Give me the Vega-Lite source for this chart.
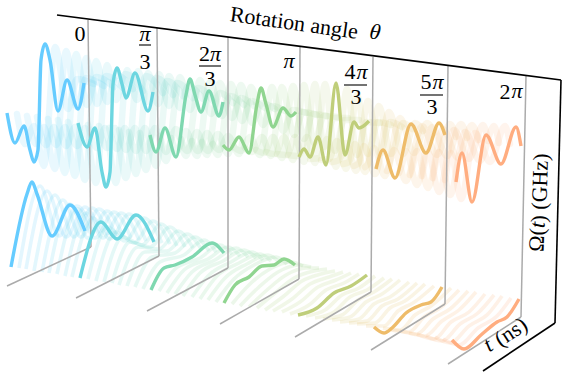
{"$schema":"https://vega.github.io/schema/vega-lite/v6.json","width":564,"height":373,"padding":0,"autosize":{"type":"fit","contains":"padding"},"background":"white","view":{"stroke":null},
"config":{"text":{"font":"Liberation Serif","fontSize":22,"color":"#000"}},
"datasets":{
"main":[
{"ch":"u","th":0,"x":5,"y":113},{"ch":"u","th":0,"x":13,"y":143},{"ch":"u","th":0,"x":22,"y":126},{"ch":"u","th":0,"x":28,"y":150},{"ch":"u","th":0,"x":32,"y":162},{"ch":"u","th":0,"x":36,"y":150},{"ch":"u","th":0,"x":39,"y":60},{"ch":"u","th":0,"x":43,"y":44},{"ch":"u","th":0,"x":48,"y":60},{"ch":"u","th":0,"x":56,"y":111},{"ch":"u","th":0,"x":65,"y":80},{"ch":"u","th":0,"x":76,"y":109},{"ch":"u","th":0,"x":82,"y":83},
{"ch":"u","th":1,"x":76,"y":123},{"ch":"u","th":1,"x":85,"y":147},{"ch":"u","th":1,"x":93,"y":128},{"ch":"u","th":1,"x":100,"y":172},{"ch":"u","th":1,"x":104,"y":187},{"ch":"u","th":1,"x":108,"y":172},{"ch":"u","th":1,"x":111,"y":84},{"ch":"u","th":1,"x":115,"y":68},{"ch":"u","th":1,"x":120,"y":84},{"ch":"u","th":1,"x":124,"y":98},{"ch":"u","th":1,"x":133,"y":73},{"ch":"u","th":1,"x":146,"y":111},{"ch":"u","th":1,"x":151,"y":92},
{"ch":"u","th":2,"x":148,"y":135},{"ch":"u","th":2,"x":154,"y":152},{"ch":"u","th":2,"x":163,"y":128},{"ch":"u","th":2,"x":174,"y":157},{"ch":"u","th":2,"x":184,"y":95},{"ch":"u","th":2,"x":188,"y":79},{"ch":"u","th":2,"x":193,"y":95},{"ch":"u","th":2,"x":199,"y":112},{"ch":"u","th":2,"x":207,"y":91},{"ch":"u","th":2,"x":217,"y":116},{"ch":"u","th":2,"x":221,"y":102},
{"ch":"u","th":3,"x":221,"y":145},{"ch":"u","th":3,"x":227,"y":150},{"ch":"u","th":3,"x":237,"y":137},{"ch":"u","th":3,"x":247,"y":153},{"ch":"u","th":3,"x":255,"y":104},{"ch":"u","th":3,"x":259,"y":88},{"ch":"u","th":3,"x":264,"y":104},{"ch":"u","th":3,"x":271,"y":127},{"ch":"u","th":3,"x":281,"y":108},{"ch":"u","th":3,"x":289,"y":116},{"ch":"u","th":3,"x":294,"y":112},
{"ch":"u","th":4,"x":297,"y":157},{"ch":"u","th":4,"x":302,"y":149},{"ch":"u","th":4,"x":308,"y":157},{"ch":"u","th":4,"x":316,"y":137},{"ch":"u","th":4,"x":324,"y":165},{"ch":"u","th":4,"x":334,"y":83},{"ch":"u","th":4,"x":343,"y":155},{"ch":"u","th":4,"x":352,"y":122},{"ch":"u","th":4,"x":357,"y":128},{"ch":"u","th":4,"x":367,"y":121},
{"ch":"u","th":5,"x":374,"y":169},{"ch":"u","th":5,"x":381,"y":150},{"ch":"u","th":5,"x":393,"y":178},{"ch":"u","th":5,"x":409,"y":124},{"ch":"u","th":5,"x":424,"y":153},{"ch":"u","th":5,"x":437,"y":123},{"ch":"u","th":5,"x":443,"y":135},
{"ch":"u","th":6,"x":454,"y":182},{"ch":"u","th":6,"x":460,"y":153},{"ch":"u","th":6,"x":470,"y":202},{"ch":"u","th":6,"x":484,"y":135},{"ch":"u","th":6,"x":499,"y":164},{"ch":"u","th":6,"x":514,"y":127},{"ch":"u","th":6,"x":519,"y":146},
{"ch":"l","th":0,"x":9,"y":267},{"ch":"l","th":0,"x":25,"y":194},{"ch":"l","th":0,"x":30,"y":182},{"ch":"l","th":0,"x":35,"y":194},{"ch":"l","th":0,"x":50,"y":236},{"ch":"l","th":0,"x":68,"y":205},{"ch":"l","th":0,"x":83,"y":231},
{"ch":"l","th":1,"x":78,"y":278},{"ch":"l","th":1,"x":99,"y":222},{"ch":"l","th":1,"x":115,"y":239},{"ch":"l","th":1,"x":134,"y":215},{"ch":"l","th":1,"x":152,"y":242},
{"ch":"l","th":2,"x":149,"y":290},{"ch":"l","th":2,"x":162,"y":268},{"ch":"l","th":2,"x":173,"y":265},{"ch":"l","th":2,"x":190,"y":257},{"ch":"l","th":2,"x":210,"y":243},{"ch":"l","th":2,"x":222,"y":253},
{"ch":"l","th":3,"x":222,"y":303},{"ch":"l","th":3,"x":233,"y":285},{"ch":"l","th":3,"x":247,"y":277},{"ch":"l","th":3,"x":260,"y":266},{"ch":"l","th":3,"x":272,"y":265},{"ch":"l","th":3,"x":282,"y":259},{"ch":"l","th":3,"x":293,"y":265},
{"ch":"l","th":4,"x":296,"y":315},{"ch":"l","th":4,"x":315,"y":308},{"ch":"l","th":4,"x":332,"y":293},{"ch":"l","th":4,"x":349,"y":286},{"ch":"l","th":4,"x":365,"y":275},
{"ch":"l","th":5,"x":372,"y":327},{"ch":"l","th":5,"x":382,"y":333},{"ch":"l","th":5,"x":390,"y":328},{"ch":"l","th":5,"x":404,"y":313},{"ch":"l","th":5,"x":419,"y":305},{"ch":"l","th":5,"x":429,"y":302},{"ch":"l","th":5,"x":440,"y":287},
{"ch":"l","th":6,"x":450,"y":340},{"ch":"l","th":6,"x":462,"y":349},{"ch":"l","th":6,"x":479,"y":335},{"ch":"l","th":6,"x":495,"y":322},{"ch":"l","th":6,"x":505,"y":317},{"ch":"l","th":6,"x":517,"y":299}
],
"faintUpper":[
{"th":0.14,"x":15,"y":114},{"th":0.14,"x":23,"y":144},{"th":0.14,"x":32,"y":126},{"th":0.14,"x":42,"y":166},{"th":0.14,"x":53,"y":47},{"th":0.14,"x":66,"y":109},{"th":0.14,"x":75,"y":79},{"th":0.14,"x":92,"y":84},
{"th":0.29,"x":25,"y":116},{"th":0.29,"x":34,"y":144},{"th":0.29,"x":42,"y":127},{"th":0.29,"x":53,"y":169},{"th":0.29,"x":64,"y":51},{"th":0.29,"x":75,"y":107},{"th":0.29,"x":84,"y":78},{"th":0.29,"x":102,"y":86},
{"th":0.43,"x":35,"y":117},{"th":0.43,"x":44,"y":145},{"th":0.43,"x":52,"y":127},{"th":0.43,"x":63,"y":173},{"th":0.43,"x":74,"y":54},{"th":0.43,"x":85,"y":105},{"th":0.43,"x":94,"y":77},{"th":0.43,"x":112,"y":87},
{"th":0.57,"x":46,"y":119},{"th":0.57,"x":54,"y":145},{"th":0.57,"x":63,"y":127},{"th":0.57,"x":73,"y":176},{"th":0.57,"x":84,"y":58},{"th":0.57,"x":95,"y":104},{"th":0.57,"x":104,"y":76},{"th":0.57,"x":121,"y":88},
{"th":0.71,"x":56,"y":120},{"th":0.71,"x":64,"y":146},{"th":0.71,"x":73,"y":127},{"th":0.71,"x":83,"y":180},{"th":0.71,"x":94,"y":61},{"th":0.71,"x":105,"y":102},{"th":0.71,"x":114,"y":75},{"th":0.71,"x":131,"y":89},
{"th":0.86,"x":66,"y":122},{"th":0.86,"x":75,"y":146},{"th":0.86,"x":83,"y":128},{"th":0.86,"x":94,"y":183},{"th":0.86,"x":105,"y":65},{"th":0.86,"x":114,"y":100},{"th":0.86,"x":123,"y":74},{"th":0.86,"x":141,"y":91},
{"th":1.14,"x":86,"y":125},{"th":1.14,"x":95,"y":148},{"th":1.14,"x":103,"y":128},{"th":1.14,"x":114,"y":183},{"th":1.14,"x":125,"y":70},{"th":1.14,"x":135,"y":100},{"th":1.14,"x":144,"y":76},{"th":1.14,"x":161,"y":93},
{"th":1.29,"x":97,"y":126},{"th":1.29,"x":105,"y":148},{"th":1.29,"x":113,"y":128},{"th":1.29,"x":124,"y":178},{"th":1.29,"x":136,"y":71},{"th":1.29,"x":145,"y":102},{"th":1.29,"x":154,"y":78},{"th":1.29,"x":171,"y":95},
{"th":1.43,"x":107,"y":128},{"th":1.43,"x":115,"y":149},{"th":1.43,"x":123,"y":128},{"th":1.43,"x":134,"y":174},{"th":1.43,"x":146,"y":73},{"th":1.43,"x":156,"y":104},{"th":1.43,"x":165,"y":81},{"th":1.43,"x":181,"y":96},
{"th":1.57,"x":117,"y":130},{"th":1.57,"x":124,"y":150},{"th":1.57,"x":133,"y":128},{"th":1.57,"x":144,"y":170},{"th":1.57,"x":157,"y":74},{"th":1.57,"x":167,"y":106},{"th":1.57,"x":175,"y":83},{"th":1.57,"x":191,"y":98},
{"th":1.71,"x":127,"y":132},{"th":1.71,"x":134,"y":151},{"th":1.71,"x":143,"y":128},{"th":1.71,"x":154,"y":166},{"th":1.71,"x":167,"y":76},{"th":1.71,"x":178,"y":108},{"th":1.71,"x":186,"y":86},{"th":1.71,"x":201,"y":99},
{"th":1.86,"x":138,"y":133},{"th":1.86,"x":144,"y":151},{"th":1.86,"x":153,"y":128},{"th":1.86,"x":164,"y":161},{"th":1.86,"x":178,"y":77},{"th":1.86,"x":188,"y":110},{"th":1.86,"x":196,"y":88},{"th":1.86,"x":211,"y":101},
{"th":2.14,"x":158,"y":136},{"th":2.14,"x":164,"y":152},{"th":2.14,"x":174,"y":129},{"th":2.14,"x":184,"y":156},{"th":2.14,"x":198,"y":80},{"th":2.14,"x":209,"y":114},{"th":2.14,"x":218,"y":93},{"th":2.14,"x":231,"y":103},
{"th":2.29,"x":169,"y":138},{"th":2.29,"x":175,"y":151},{"th":2.29,"x":184,"y":131},{"th":2.29,"x":195,"y":156},{"th":2.29,"x":208,"y":82},{"th":2.29,"x":220,"y":116},{"th":2.29,"x":228,"y":96},{"th":2.29,"x":242,"y":105},
{"th":2.43,"x":179,"y":139},{"th":2.43,"x":185,"y":151},{"th":2.43,"x":195,"y":132},{"th":2.43,"x":205,"y":155},{"th":2.43,"x":218,"y":83},{"th":2.43,"x":230,"y":118},{"th":2.43,"x":239,"y":98},{"th":2.43,"x":252,"y":106},
{"th":2.57,"x":190,"y":141},{"th":2.57,"x":196,"y":151},{"th":2.57,"x":205,"y":133},{"th":2.57,"x":216,"y":155},{"th":2.57,"x":229,"y":84},{"th":2.57,"x":240,"y":121},{"th":2.57,"x":249,"y":101},{"th":2.57,"x":263,"y":108},
{"th":2.71,"x":200,"y":142},{"th":2.71,"x":206,"y":151},{"th":2.71,"x":216,"y":134},{"th":2.71,"x":226,"y":154},{"th":2.71,"x":239,"y":85},{"th":2.71,"x":250,"y":123},{"th":2.71,"x":260,"y":103},{"th":2.71,"x":273,"y":109},
{"th":2.86,"x":211,"y":144},{"th":2.86,"x":217,"y":150},{"th":2.86,"x":226,"y":136},{"th":2.86,"x":237,"y":154},{"th":2.86,"x":249,"y":87},{"th":2.86,"x":261,"y":125},{"th":2.86,"x":270,"y":106},{"th":2.86,"x":283,"y":111},
{"th":3.14,"x":232,"y":147},{"th":3.14,"x":239,"y":151},{"th":3.14,"x":248,"y":137},{"th":3.14,"x":258,"y":155},{"th":3.14,"x":270,"y":87},{"th":3.14,"x":281,"y":131},{"th":3.14,"x":291,"y":110},{"th":3.14,"x":304,"y":113},
{"th":3.29,"x":243,"y":148},{"th":3.29,"x":250,"y":152},{"th":3.29,"x":260,"y":137},{"th":3.29,"x":269,"y":156},{"th":3.29,"x":280,"y":87},{"th":3.29,"x":292,"y":135},{"th":3.29,"x":301,"y":112},{"th":3.29,"x":315,"y":115},
{"th":3.43,"x":254,"y":150},{"th":3.43,"x":262,"y":153},{"th":3.43,"x":271,"y":137},{"th":3.43,"x":280,"y":158},{"th":3.43,"x":291,"y":86},{"th":3.43,"x":302,"y":139},{"th":3.43,"x":311,"y":114},{"th":3.43,"x":325,"y":116},
{"th":3.57,"x":264,"y":152},{"th":3.57,"x":273,"y":154},{"th":3.57,"x":282,"y":137},{"th":3.57,"x":291,"y":160},{"th":3.57,"x":302,"y":85},{"th":3.57,"x":312,"y":143},{"th":3.57,"x":322,"y":116},{"th":3.57,"x":336,"y":117},
{"th":3.71,"x":275,"y":154},{"th":3.71,"x":285,"y":155},{"th":3.71,"x":293,"y":137},{"th":3.71,"x":302,"y":162},{"th":3.71,"x":313,"y":84},{"th":3.71,"x":322,"y":147},{"th":3.71,"x":332,"y":118},{"th":3.71,"x":346,"y":118},
{"th":3.86,"x":286,"y":155},{"th":3.86,"x":296,"y":156},{"th":3.86,"x":305,"y":137},{"th":3.86,"x":313,"y":163},{"th":3.86,"x":323,"y":84},{"th":3.86,"x":333,"y":151},{"th":3.86,"x":342,"y":120},{"th":3.86,"x":357,"y":120},
{"th":4.14,"x":308,"y":159},{"th":4.14,"x":318,"y":158},{"th":4.14,"x":325,"y":139},{"th":4.14,"x":334,"y":167},{"th":4.14,"x":345,"y":89},{"th":4.14,"x":355,"y":155},{"th":4.14,"x":364,"y":122},{"th":4.14,"x":378,"y":123},
{"th":4.29,"x":319,"y":160},{"th":4.29,"x":327,"y":159},{"th":4.29,"x":335,"y":141},{"th":4.29,"x":344,"y":169},{"th":4.29,"x":355,"y":95},{"th":4.29,"x":366,"y":154},{"th":4.29,"x":376,"y":122},{"th":4.29,"x":389,"y":125},
{"th":4.43,"x":330,"y":162},{"th":4.43,"x":337,"y":160},{"th":4.43,"x":344,"y":143},{"th":4.43,"x":354,"y":171},{"th":4.43,"x":366,"y":101},{"th":4.43,"x":378,"y":154},{"th":4.43,"x":388,"y":122},{"th":4.43,"x":400,"y":127},
{"th":4.57,"x":341,"y":164},{"th":4.57,"x":347,"y":162},{"th":4.57,"x":353,"y":144},{"th":4.57,"x":363,"y":172},{"th":4.57,"x":377,"y":106},{"th":4.57,"x":389,"y":154},{"th":4.57,"x":401,"y":123},{"th":4.57,"x":410,"y":129},
{"th":4.71,"x":352,"y":166},{"th":4.71,"x":357,"y":163},{"th":4.71,"x":362,"y":146},{"th":4.71,"x":373,"y":174},{"th":4.71,"x":387,"y":112},{"th":4.71,"x":401,"y":154},{"th":4.71,"x":413,"y":123},{"th":4.71,"x":421,"y":131},
{"th":4.86,"x":363,"y":167},{"th":4.86,"x":366,"y":164},{"th":4.86,"x":372,"y":148},{"th":4.86,"x":383,"y":176},{"th":4.86,"x":398,"y":118},{"th":4.86,"x":412,"y":153},{"th":4.86,"x":425,"y":123},{"th":4.86,"x":432,"y":133},
{"th":5.14,"x":385,"y":171},{"th":5.14,"x":387,"y":166},{"th":5.14,"x":392,"y":150},{"th":5.14,"x":404,"y":181},{"th":5.14,"x":420,"y":126},{"th":5.14,"x":435,"y":155},{"th":5.14,"x":448,"y":124},{"th":5.14,"x":454,"y":137},
{"th":5.29,"x":397,"y":173},{"th":5.29,"x":399,"y":168},{"th":5.29,"x":404,"y":151},{"th":5.29,"x":415,"y":185},{"th":5.29,"x":430,"y":127},{"th":5.29,"x":445,"y":156},{"th":5.29,"x":459,"y":124},{"th":5.29,"x":465,"y":138},
{"th":5.43,"x":408,"y":175},{"th":5.43,"x":410,"y":169},{"th":5.43,"x":415,"y":151},{"th":5.43,"x":426,"y":188},{"th":5.43,"x":441,"y":129},{"th":5.43,"x":456,"y":158},{"th":5.43,"x":470,"y":125},{"th":5.43,"x":476,"y":140},
{"th":5.57,"x":420,"y":176},{"th":5.57,"x":421,"y":171},{"th":5.57,"x":426,"y":152},{"th":5.57,"x":437,"y":192},{"th":5.57,"x":452,"y":130},{"th":5.57,"x":467,"y":159},{"th":5.57,"x":481,"y":125},{"th":5.57,"x":486,"y":141},
{"th":5.71,"x":431,"y":178},{"th":5.71,"x":432,"y":172},{"th":5.71,"x":437,"y":152},{"th":5.71,"x":448,"y":195},{"th":5.71,"x":463,"y":132},{"th":5.71,"x":478,"y":161},{"th":5.71,"x":492,"y":126},{"th":5.71,"x":497,"y":143},
{"th":5.86,"x":443,"y":180},{"th":5.86,"x":444,"y":174},{"th":5.86,"x":449,"y":153},{"th":5.86,"x":459,"y":199},{"th":5.86,"x":473,"y":133},{"th":5.86,"x":488,"y":162},{"th":5.86,"x":503,"y":126},{"th":5.86,"x":508,"y":144}
],
"faintLower":[
{"th":0.11,"x":17,"y":268},{"th":0.11,"x":38,"y":186},{"th":0.11,"x":57,"y":236},{"th":0.11,"x":75,"y":206},{"th":0.11,"x":91,"y":232},
{"th":0.22,"x":24,"y":269},{"th":0.22,"x":45,"y":191},{"th":0.22,"x":64,"y":237},{"th":0.22,"x":83,"y":207},{"th":0.22,"x":98,"y":233},
{"th":0.33,"x":32,"y":271},{"th":0.33,"x":53,"y":195},{"th":0.33,"x":72,"y":237},{"th":0.33,"x":90,"y":208},{"th":0.33,"x":106,"y":235},
{"th":0.44,"x":40,"y":272},{"th":0.44,"x":61,"y":200},{"th":0.44,"x":79,"y":237},{"th":0.44,"x":97,"y":209},{"th":0.44,"x":114,"y":236},
{"th":0.56,"x":47,"y":273},{"th":0.56,"x":68,"y":204},{"th":0.56,"x":86,"y":238},{"th":0.56,"x":105,"y":211},{"th":0.56,"x":121,"y":237},
{"th":0.67,"x":55,"y":274},{"th":0.67,"x":76,"y":209},{"th":0.67,"x":93,"y":238},{"th":0.67,"x":112,"y":212},{"th":0.67,"x":129,"y":238},
{"th":0.78,"x":63,"y":276},{"th":0.78,"x":84,"y":213},{"th":0.78,"x":101,"y":238},{"th":0.78,"x":119,"y":213},{"th":0.78,"x":137,"y":240},
{"th":0.89,"x":70,"y":277},{"th":0.89,"x":91,"y":218},{"th":0.89,"x":108,"y":239},{"th":0.89,"x":127,"y":214},{"th":0.89,"x":144,"y":241},
{"th":1.11,"x":86,"y":279},{"th":1.11,"x":106,"y":227},{"th":1.11,"x":123,"y":241},{"th":1.11,"x":142,"y":218},{"th":1.11,"x":160,"y":243},
{"th":1.22,"x":94,"y":281},{"th":1.22,"x":114,"y":232},{"th":1.22,"x":132,"y":243},{"th":1.22,"x":151,"y":221},{"th":1.22,"x":168,"y":244},
{"th":1.33,"x":102,"y":282},{"th":1.33,"x":121,"y":237},{"th":1.33,"x":140,"y":245},{"th":1.33,"x":159,"y":224},{"th":1.33,"x":175,"y":246},
{"th":1.44,"x":110,"y":283},{"th":1.44,"x":128,"y":242},{"th":1.44,"x":148,"y":247},{"th":1.44,"x":168,"y":227},{"th":1.44,"x":183,"y":247},
{"th":1.56,"x":117,"y":285},{"th":1.56,"x":136,"y":247},{"th":1.56,"x":157,"y":249},{"th":1.56,"x":176,"y":231},{"th":1.56,"x":191,"y":248},
{"th":1.67,"x":125,"y":286},{"th":1.67,"x":143,"y":252},{"th":1.67,"x":165,"y":251},{"th":1.67,"x":185,"y":234},{"th":1.67,"x":199,"y":249},
{"th":1.78,"x":133,"y":287},{"th":1.78,"x":150,"y":257},{"th":1.78,"x":173,"y":253},{"th":1.78,"x":193,"y":237},{"th":1.78,"x":207,"y":251},
{"th":1.89,"x":141,"y":289},{"th":1.89,"x":158,"y":262},{"th":1.89,"x":182,"y":255},{"th":1.89,"x":202,"y":240},{"th":1.89,"x":214,"y":252},
{"th":2.11,"x":157,"y":291},{"th":2.11,"x":173,"y":269},{"th":2.11,"x":198,"y":258},{"th":2.11,"x":218,"y":245},{"th":2.11,"x":230,"y":254},
{"th":2.22,"x":165,"y":293},{"th":2.22,"x":182,"y":270},{"th":2.22,"x":206,"y":259},{"th":2.22,"x":226,"y":247},{"th":2.22,"x":238,"y":256},
{"th":2.33,"x":173,"y":294},{"th":2.33,"x":190,"y":272},{"th":2.33,"x":213,"y":260},{"th":2.33,"x":234,"y":248},{"th":2.33,"x":246,"y":257},
{"th":2.44,"x":181,"y":296},{"th":2.44,"x":198,"y":273},{"th":2.44,"x":221,"y":261},{"th":2.44,"x":242,"y":250},{"th":2.44,"x":254,"y":258},
{"th":2.56,"x":190,"y":297},{"th":2.56,"x":207,"y":275},{"th":2.56,"x":229,"y":262},{"th":2.56,"x":250,"y":252},{"th":2.56,"x":261,"y":260},
{"th":2.67,"x":198,"y":299},{"th":2.67,"x":215,"y":276},{"th":2.67,"x":237,"y":263},{"th":2.67,"x":258,"y":254},{"th":2.67,"x":269,"y":261},
{"th":2.78,"x":206,"y":300},{"th":2.78,"x":223,"y":278},{"th":2.78,"x":245,"y":264},{"th":2.78,"x":266,"y":255},{"th":2.78,"x":277,"y":262},
{"th":2.89,"x":214,"y":302},{"th":2.89,"x":232,"y":279},{"th":2.89,"x":252,"y":265},{"th":2.89,"x":274,"y":257},{"th":2.89,"x":285,"y":264},
{"th":3.11,"x":230,"y":304},{"th":3.11,"x":248,"y":284},{"th":3.11,"x":268,"y":269},{"th":3.11,"x":289,"y":262},{"th":3.11,"x":301,"y":266},
{"th":3.22,"x":238,"y":306},{"th":3.22,"x":257,"y":287},{"th":3.22,"x":276,"y":272},{"th":3.22,"x":297,"y":265},{"th":3.22,"x":309,"y":267},
{"th":3.33,"x":247,"y":307},{"th":3.33,"x":265,"y":290},{"th":3.33,"x":284,"y":275},{"th":3.33,"x":304,"y":268},{"th":3.33,"x":317,"y":268},
{"th":3.44,"x":255,"y":308},{"th":3.44,"x":273,"y":293},{"th":3.44,"x":292,"y":278},{"th":3.44,"x":312,"y":271},{"th":3.44,"x":325,"y":269},
{"th":3.56,"x":263,"y":310},{"th":3.56,"x":282,"y":296},{"th":3.56,"x":300,"y":281},{"th":3.56,"x":319,"y":274},{"th":3.56,"x":333,"y":271},
{"th":3.67,"x":271,"y":311},{"th":3.67,"x":290,"y":299},{"th":3.67,"x":308,"y":284},{"th":3.67,"x":327,"y":277},{"th":3.67,"x":341,"y":272},
{"th":3.78,"x":280,"y":312},{"th":3.78,"x":298,"y":302},{"th":3.78,"x":316,"y":287},{"th":3.78,"x":334,"y":280},{"th":3.78,"x":349,"y":273},
{"th":3.89,"x":288,"y":314},{"th":3.89,"x":307,"y":305},{"th":3.89,"x":324,"y":290},{"th":3.89,"x":342,"y":283},{"th":3.89,"x":357,"y":274},
{"th":4.11,"x":304,"y":316},{"th":4.11,"x":323,"y":310},{"th":4.11,"x":340,"y":295},{"th":4.11,"x":357,"y":288},{"th":4.11,"x":373,"y":276},
{"th":4.22,"x":313,"y":318},{"th":4.22,"x":332,"y":312},{"th":4.22,"x":348,"y":297},{"th":4.22,"x":365,"y":290},{"th":4.22,"x":382,"y":278},
{"th":4.33,"x":321,"y":319},{"th":4.33,"x":340,"y":315},{"th":4.33,"x":356,"y":300},{"th":4.33,"x":372,"y":292},{"th":4.33,"x":390,"y":279},
{"th":4.44,"x":330,"y":320},{"th":4.44,"x":348,"y":317},{"th":4.44,"x":364,"y":302},{"th":4.44,"x":380,"y":294},{"th":4.44,"x":398,"y":280},
{"th":4.56,"x":338,"y":322},{"th":4.56,"x":357,"y":319},{"th":4.56,"x":372,"y":304},{"th":4.56,"x":388,"y":297},{"th":4.56,"x":407,"y":282},
{"th":4.67,"x":347,"y":323},{"th":4.67,"x":365,"y":321},{"th":4.67,"x":380,"y":306},{"th":4.67,"x":396,"y":299},{"th":4.67,"x":415,"y":283},
{"th":4.78,"x":355,"y":324},{"th":4.78,"x":373,"y":323},{"th":4.78,"x":388,"y":308},{"th":4.78,"x":403,"y":301},{"th":4.78,"x":423,"y":284},
{"th":4.89,"x":364,"y":326},{"th":4.89,"x":382,"y":326},{"th":4.89,"x":396,"y":311},{"th":4.89,"x":411,"y":303},{"th":4.89,"x":432,"y":286},
{"th":5.11,"x":381,"y":328},{"th":5.11,"x":398,"y":330},{"th":5.11,"x":413,"y":315},{"th":5.11,"x":429,"y":306},{"th":5.11,"x":449,"y":288},
{"th":5.22,"x":389,"y":330},{"th":5.22,"x":407,"y":332},{"th":5.22,"x":422,"y":317},{"th":5.22,"x":438,"y":308},{"th":5.22,"x":457,"y":290},
{"th":5.33,"x":398,"y":331},{"th":5.33,"x":415,"y":334},{"th":5.33,"x":431,"y":319},{"th":5.33,"x":448,"y":309},{"th":5.33,"x":466,"y":291},
{"th":5.44,"x":407,"y":333},{"th":5.44,"x":423,"y":336},{"th":5.44,"x":440,"y":321},{"th":5.44,"x":457,"y":310},{"th":5.44,"x":474,"y":292},
{"th":5.56,"x":415,"y":334},{"th":5.56,"x":432,"y":339},{"th":5.56,"x":449,"y":322},{"th":5.56,"x":467,"y":312},{"th":5.56,"x":483,"y":294},
{"th":5.67,"x":424,"y":336},{"th":5.67,"x":440,"y":341},{"th":5.67,"x":458,"y":324},{"th":5.67,"x":476,"y":313},{"th":5.67,"x":492,"y":295},
{"th":5.78,"x":433,"y":337},{"th":5.78,"x":448,"y":343},{"th":5.78,"x":467,"y":326},{"th":5.78,"x":486,"y":314},{"th":5.78,"x":500,"y":296},
{"th":5.89,"x":441,"y":339},{"th":5.89,"x":457,"y":345},{"th":5.89,"x":476,"y":328},{"th":5.89,"x":495,"y":316},{"th":5.89,"x":509,"y":298}
]},
"encoding":{
"x":{"field":"x","type":"quantitative","axis":null,"scale":{"domain":[0,564],"range":[0,564],"nice":false,"zero":false}},
"y":{"field":"y","type":"quantitative","axis":null,"scale":{"domain":[373,0],"range":[373,0],"nice":false,"zero":false}}},
"layer":[
{"data":{"name":"faintUpper"},"mark":{"type":"line","interpolate":"monotone","strokeWidth":6.5,"opacity":0.14,"strokeCap":"round"},"encoding":{"detail":{"field":"th"},"color":{"field":"th","type":"quantitative","legend":null,"scale":{"domain":[0,1,2,3,4,5,6],"range":["#66CCFF","#6CD6E0","#7FD8B0","#90D590","#BFCE7A","#EEBC6A","#FFAD80"]}}}},
{"data":{"name":"faintLower"},"mark":{"type":"line","interpolate":"monotone","strokeWidth":3.6,"opacity":0.18},"encoding":{"detail":{"field":"th"},"color":{"field":"th","type":"quantitative","legend":null}}},
{"data":{"values":[{"x":5,"y":286,"x2":89,"y2":247},{"x":89,"y":247,"x2":86,"y2":20},{"x":74,"y":298,"x2":157,"y2":256},{"x":157,"y":256,"x2":155,"y2":28},{"x":145,"y":311,"x2":226,"y2":268},{"x":226,"y":268,"x2":226,"y2":37},{"x":218,"y":324,"x2":297,"y2":279},{"x":297,"y":279,"x2":298,"y2":47},{"x":293,"y":337,"x2":369,"y2":292},{"x":369,"y":292,"x2":371,"y2":57},{"x":369,"y":350,"x2":443,"y2":304},{"x":443,"y":304,"x2":446,"y2":66},{"x":446,"y":364,"x2":519,"y2":317},{"x":519,"y":317,"x2":524,"y2":76}]},"mark":{"type":"rule","color":"#ababab","strokeWidth":1.5},"encoding":{"x2":{"field":"x2"},"y2":{"field":"y2"}}},
{"data":{"name":"main"},"mark":{"type":"line","interpolate":"monotone","strokeWidth":3.4},"encoding":{"detail":[{"field":"ch"},{"field":"th"}],"color":{"field":"th","type":"quantitative","legend":null}}},
{"data":{"values":[{"x":55,"y":15,"x2":559,"y2":80},{"x":559,"y":80,"x2":553,"y2":323},{"x":553,"y":323,"x2":481,"y2":371}]},"mark":{"type":"rule","color":"#000","strokeWidth":1.6},"encoding":{"x2":{"field":"x2"},"y2":{"field":"y2"}}},
{"data":{"values":[{"x":137,"y":45,"x2":149,"y2":45},{"x":197,"y":66,"x2":219,"y2":66},{"x":342,"y":85,"x2":365,"y2":85},{"x":418,"y":95,"x2":441,"y2":95}]},"mark":{"type":"rule","color":"#000","strokeWidth":1.1},"encoding":{"x2":{"field":"x2"},"y2":{"field":"y2"}}},
{"data":{"values":[{"t":"0","x":78,"y":34},{"t":"3","x":143,"y":62},{"t":"2","x":202.5,"y":54},{"t":"3","x":208,"y":79},{"t":"4","x":348,"y":72},{"t":"3","x":354,"y":97},{"t":"5","x":424,"y":82},{"t":"3","x":430,"y":107},{"t":"2","x":503,"y":92}]},"mark":{"type":"text","align":"center","baseline":"middle"},"encoding":{"text":{"field":"t"}}},
{"data":{"values":[{"t":"π","x":143,"y":34},{"t":"π","x":213.5,"y":54},{"t":"π","x":287,"y":61},{"t":"π","x":360,"y":72},{"t":"π","x":436,"y":82},{"t":"π","x":515,"y":91}]},"mark":{"type":"text","align":"center","baseline":"middle","fontStyle":"italic"},"encoding":{"text":{"field":"t"}}},
{"data":{"values":[{"t":"Rotation angle","x":292,"y":23}]},"mark":{"type":"text","align":"center","baseline":"middle","angle":8},"encoding":{"text":{"field":"t"}}},
{"data":{"values":[{"t":"θ","x":373,"y":32}]},"mark":{"type":"text","align":"center","baseline":"middle","angle":8,"fontStyle":"italic"},"encoding":{"text":{"field":"t"}}},
{"data":{"values":[{"t":"Ω(","x":535,"y":240},{"t":") (GHz)","x":538,"y":188}]},"mark":{"type":"text","align":"center","baseline":"middle","angle":-88},"encoding":{"text":{"field":"t"}}},
{"data":{"values":[{"t":"t","x":535.5,"y":225}]},"mark":{"type":"text","align":"center","baseline":"middle","angle":-88,"fontStyle":"italic"},"encoding":{"text":{"field":"t"}}},
{"data":{"values":[{"t":"(ns)","x":509,"y":332}]},"mark":{"type":"text","align":"center","baseline":"middle","angle":-33},"encoding":{"text":{"field":"t"}}},
{"data":{"values":[{"t":"t","x":486,"y":345}]},"mark":{"type":"text","align":"center","baseline":"middle","angle":-33,"fontStyle":"italic"},"encoding":{"text":{"field":"t"}}}
]}
